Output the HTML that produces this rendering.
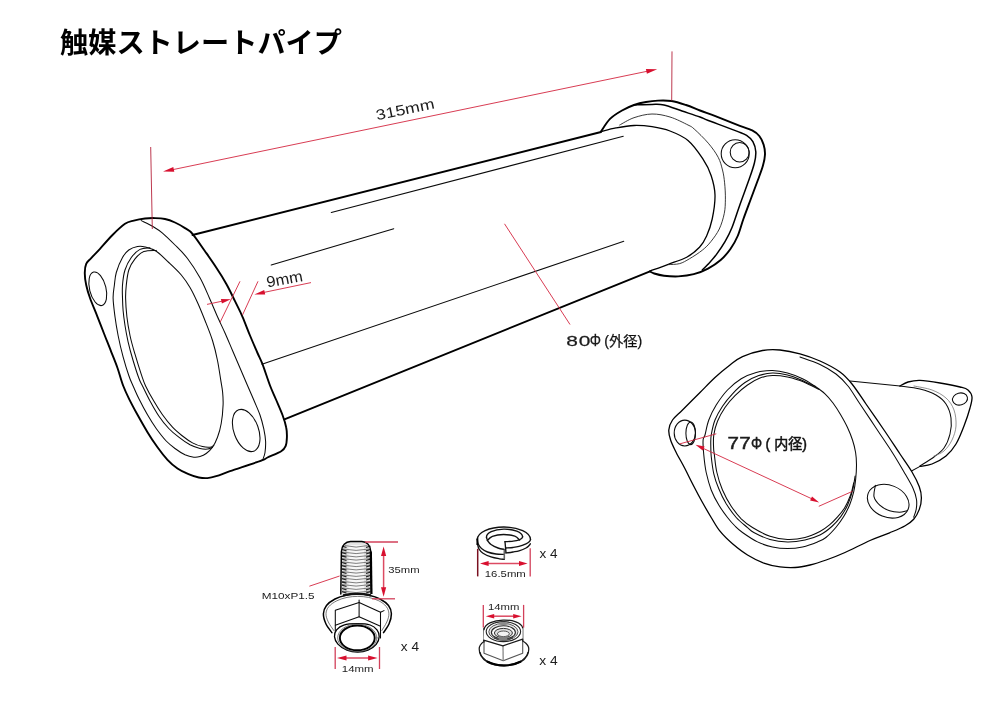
<!DOCTYPE html>
<html lang="ja">
<head>
<meta charset="utf-8">
<title>触媒ストレートパイプ</title>
<style>
html,body{margin:0;padding:0;background:#fff;}
body{width:1000px;height:706px;overflow:hidden;font-family:"Liberation Sans",sans-serif;}
svg{display:block;will-change:transform;}
.k{fill:none;stroke:#000;stroke-width:1.9;stroke-linecap:round;stroke-linejoin:round;}
.m{fill:none;stroke:#000;stroke-width:1.5;stroke-linecap:round;stroke-linejoin:round;}
.m2{fill:none;stroke:#000;stroke-width:1.3;stroke-linecap:round;stroke-linejoin:round;}
.n{fill:none;stroke:#0a0a0a;stroke-width:1.05;stroke-linecap:round;stroke-linejoin:round;}
.w1{fill:none;stroke:#222;stroke-width:0.9;stroke-linecap:round;stroke-linejoin:round;}
.w2{fill:none;stroke:#777;stroke-width:0.8;stroke-linecap:round;}
.g{fill:none;stroke:#555;stroke-width:0.8;stroke-linecap:round;stroke-linejoin:round;}
.r{fill:none;stroke:#d4263f;stroke-width:.9;stroke-linecap:butt;}
.r2{fill:none;stroke:#d2405a;stroke-width:1.3;stroke-linecap:butt;}
.r3{fill:none;stroke:#dc4a62;stroke-width:1.5;}
.rd2{fill:none;stroke:#7a1020;stroke-width:1.5;}
.rd{fill:none;stroke:#b5233b;stroke-width:.9;}
.rf{fill:#d8102f;stroke:none;}
.t{font-family:"Liberation Sans",sans-serif;fill:#1c1c1c;}
.jp{fill:#000;stroke:none;font-family:"Liberation Sans","Noto Sans CJK JP",sans-serif;}
.jps{fill:#111;stroke:#111;stroke-width:0.25;font-family:"Liberation Sans","Noto Sans CJK JP",sans-serif;}
.jpb{fill:#111;stroke:#111;stroke-width:0.5;font-family:"Liberation Sans","Noto Sans CJK JP",sans-serif;}
.w{fill:#fff;}
</style>
</head>
<body>
<svg width="1000" height="706" viewBox="0 0 1000 706" role="img" aria-label="触媒ストレートパイプ 寸法図: 全長315mm, フランジ厚9mm, 80Φ(外径), 77Φ(内径), ボルト M10xP1.5 35mm 14mm x4, スプリングワッシャー 16.5mm x4, ナット 14mm x4">
<title>触媒ストレートパイプ 寸法図</title>
<rect class="w" x="0" y="0" width="1000" height="706"/>
<text class="jp" x="60" y="52.5" font-size="28.2" font-weight="bold" text-anchor="start" textLength="282" lengthAdjust="spacingAndGlyphs">触媒ストレートパイプ</text>
<path class="k" d="M192.5 235L601 132"/>
<path class="k" d="M284.4 419.4L650 271.3"/>
<path class="n" d="M331.3 212.5L623.3 136.3"/>
<path class="n" d="M271.2 265L393.8 228.8"/>
<path class="n" d="M261.9 364.2L623.8 241.3"/>
<path class="k" d="M84.8 272.5C84.8 269 85.2 266.1 86.2 263.8C87.3 261.4 89 260.6 91.2 258.1C93.5 255.6 96.5 252.6 100 248.8C103.5 244.9 108.3 239.2 112.5 235C116.7 230.8 121.5 226.2 125 223.8C128.5 221.3 130.4 221.5 133.8 220.6C137.1 219.7 141.5 218.9 145 218.5C148.5 218.1 151.7 218 155 218.1C158.3 218.2 161.7 218.3 165 219C168.3 219.7 171.7 221 175 222.5C178.3 224 182.1 226.2 185 228.1C187.9 230 189.2 229.9 192.5 233.8C195.8 237.6 201 245.6 205 251.2C209 256.9 212.7 262.1 216.2 267.5C219.8 272.9 223.1 278.1 226.2 283.8C229.4 289.4 232.3 295.8 235 301.2C237.7 306.8 240 311 242.5 316.8C245 322.5 247.5 329.5 250 335.5C252.5 341.5 255.4 348.2 257.5 353C259.6 357.8 260.4 358.8 262.5 364.2C264.6 369.7 267.7 379.5 270 385.5C272.3 391.5 274.2 395.1 276.2 400C278.3 404.9 280.8 410.4 282.5 415C284.2 419.6 285.5 423.8 286.2 427.5C287 431.2 287 434.4 286.9 437.5C286.8 440.6 286.5 444 285.6 446.2C284.7 448.5 284.3 449.4 281.2 451.2C278.2 453.1 270.8 455.9 267.5 457.5C264.2 459.1 267.5 458.3 261.2 460.6C255 462.9 237.5 468.6 230 471.2C222.5 473.9 220 475.1 216.2 476.2C212.5 477.4 210.4 477.9 207.5 478.1C204.6 478.3 201.9 478.1 198.8 477.5C195.6 476.9 192 475.7 188.5 474.2C185 472.7 181 470.9 177.5 468.5C174 466.1 170.8 463.3 167.5 459.8C164.2 456.2 160.8 451.8 157.5 447.2C154.2 442.7 150.8 437.7 147.5 432.2C144.2 426.8 140.5 420.2 137.5 414.8C134.5 409.3 131.7 404.1 129.3 399.3C126.9 394.5 125.3 391.2 123.3 386C121.3 380.8 119.5 373.7 117.5 368C115.5 362.3 113.5 357.6 111.2 351.8C109 345.9 106 338.8 103.8 333C101.5 327.2 99.8 322.6 97.5 316.8C95.2 310.9 91.9 303.3 90 298C88.1 292.7 87.1 289.2 86.2 285C85.3 280.8 84.7 276 84.8 272.5Z"/>
<path class="n" d="M141.3 220.6C143.2 221.6 149 224.2 152.5 226.3C156 228.4 158.8 230 162.5 233.1C166.2 236.2 170.8 240.8 175 245C179.2 249.2 183.3 253 187.5 258.5C191.7 264 196.3 271.2 200 277.8C203.7 284.4 206.5 291.5 209.4 298C212.3 304.5 214.9 310.9 217.5 316.8C220.1 322.6 222.5 327.4 225 333C227.5 338.6 230 344.7 232.5 350.5C235 356.3 237.5 362.2 240 368C242.5 373.8 245.2 380.2 247.5 385.5C249.8 390.8 251.7 395.1 253.8 400C255.8 404.9 258.3 410.2 260 415C261.7 419.8 262.8 424.4 263.8 428.8C264.7 433.1 265.4 437.3 265.6 441.2C265.8 445.2 265.4 449.6 265 452.5C264.6 455.4 263.7 457.4 263.1 458.8C262.5 460.1 261.6 460.3 261.2 460.6"/>
<path class="n" d="M137.5 246.5C140.2 246 141.9 246.1 145 246.9C148.1 247.7 152.3 248.7 156.3 251.3C160.3 253.9 164.6 258.6 168.8 262.5C173 266.4 177.8 270.8 181.3 275C184.8 279.2 187.3 282.9 190 287.5C192.7 292.1 195 297 197.5 302.5C200 308 202.5 314.2 205 320.5C207.5 326.8 210.4 333.8 212.5 340.5C214.6 347.2 216.2 354 217.5 360.5C218.8 367 219.8 374 220.6 379.2C221.4 384.5 222.2 387.8 222.6 392C223 396.2 223.3 399.5 223.1 404.8C222.9 410 222.2 418.1 221.2 423.5C220.3 428.9 219 433.3 217.5 437.2C216 441.2 214.4 444.5 212.5 447.2C210.6 450 208.3 451.9 206.2 453.5C204.2 455.1 202.1 456 200 456.6C197.9 457.2 196.2 457.6 193.8 457.2C191.2 456.9 188.1 456.2 185 454.8C181.9 453.3 178.1 450.8 175 448.5C171.9 446.2 169.4 444.3 166.2 441C163.1 437.7 159.4 432.9 156.2 428.5C153.1 424.1 150.4 419.8 147.5 414.8C144.6 409.8 141.2 403.3 138.8 398.5C136.3 393.7 134.8 389.8 133.1 386C131.4 382.2 130.4 380.4 128.8 375.5C127.1 370.6 124.9 363.4 123.1 356.8C121.3 350.1 119.4 342.2 118.1 335.5C116.8 328.8 115.8 323 115 316.8C114.2 310.5 113.2 303.3 113.1 298C113 292.7 113.9 289.2 114.4 285C114.9 280.8 115 277.1 116.3 272.5C117.6 267.9 120.4 261.2 122.5 257.5C124.6 253.8 126.3 251.8 128.8 250C131.3 248.2 134.8 247 137.5 246.5Z"/>
<path class="n" d="M150 247.8C148.3 248.1 143.1 247.8 140 249.4C136.9 251 133.8 254.1 131.3 257.5C128.8 260.9 126.5 265.4 125 270C123.5 274.6 122.9 280.3 122.5 285C122.1 289.7 122.4 293.8 122.5 298C122.6 302.2 122.7 305.9 123.1 310.5C123.5 315.1 124.2 320.3 125 325.5C125.8 330.7 126.8 335.9 128.1 341.8C129.4 347.6 131.3 354.5 133.1 360.5C134.9 366.5 137.2 373.8 138.8 378C140.3 382.2 140.6 382.2 142.5 386C144.4 389.8 147.3 396 150 401C152.7 406 155.6 411.4 158.8 416C161.9 420.6 165.4 425 168.8 428.5C172.1 432 175.2 434.5 178.8 437.2C182.3 440 186.5 442.9 190 444.8C193.5 446.6 197.1 447.8 200 448.5C202.9 449.2 205.4 449.3 207.5 449.1C209.6 448.9 211.7 447.6 212.5 447.2"/>
<path class="n" d="M156.3 250.4C154.2 250.6 147.4 250.2 143.8 251.6C140.2 253 137.5 255.7 135 258.8C132.5 261.9 130.2 265.6 128.8 270C127.4 274.4 126.8 280.3 126.3 285C125.8 289.7 125.5 292.7 125.6 298C125.7 303.3 126.2 310.5 126.9 316.8C127.6 323 128.7 329.2 130 335.5C131.3 341.8 133.1 347.8 135 354.2C136.9 360.7 139.5 369 141.2 374.2C143 379.5 143.5 381.5 145.6 386C147.7 390.5 150.9 396.2 153.8 401C156.6 405.8 159.4 410.4 162.5 414.8C165.6 419.1 169.2 423.7 172.5 427.2C175.8 430.8 179.2 433.4 182.5 436C185.8 438.6 189.2 441.1 192.5 442.9C195.8 444.7 199.6 445.9 202.5 446.6C205.4 447.3 208.1 447.4 210 447.2C211.9 447.1 213.1 445.7 213.8 445.4"/>
<ellipse class="n" cx="97.8" cy="288.8" rx="8.2" ry="17.2" transform="rotate(-14 97.8 288.8)"/>
<ellipse class="n" cx="246.2" cy="430.5" rx="12.3" ry="22" transform="rotate(-20 246.2 430.5)"/>
<path class="k" d="M601 131.5C602.5 129.4 606.5 122.4 610 118.9C613.5 115.4 618 112.8 622 110.5C626 108.2 630 106.4 634 105C638 103.6 642 102.7 646 102C650 101.3 653.8 100.8 658 100.6C662.2 100.4 666.8 100.3 671.5 101C676.2 101.7 681.2 103.4 686 105C690.8 106.6 695.1 108.6 700 110.5C704.9 112.4 709.3 113.8 715.4 116.2C721.5 118.6 730.6 122.3 736.7 124.7C742.8 127.1 748.4 128.5 752.2 130.4C756 132.3 757.4 133.6 759.3 136C761.2 138.4 762.6 141.5 763.6 144.6C764.6 147.7 765.1 151 765 154.5C764.9 158 764.1 161.6 762.9 165.8C761.7 170.1 759.9 174.6 757.9 180C755.9 185.4 753.4 192 751 198.5C748.6 205 745.6 212.8 743.4 219C741.2 225.2 739.8 231.1 737.7 236C735.6 240.9 733.4 244.7 730.6 248.7C727.8 252.7 724.5 256.7 720.7 260C716.9 263.3 712.5 266.2 708 268.6C703.5 271 698.8 272.9 693.8 274.2C688.8 275.5 683.2 276.1 678.2 276.4C673.2 276.6 668 276.2 664 275.7C660 275.2 656.5 274.2 654.2 273.5C651.9 272.8 650.7 271.8 650 271.4"/>
<path class="m" d="M634 105C637 104.9 647 104.4 652 104.4C657 104.4 659 103.9 664 105C669 106.1 676 109 682 111C688 113 695.6 115.4 700 117C704.4 118.6 702.2 118.2 708.3 120.5C714.4 122.8 730.3 128.6 736.7 131.1C743.1 133.6 743.9 133.6 746.6 135.4C749.3 137.2 751.4 139 752.9 141.7C754.4 144.4 755.5 148.1 755.8 151.7C756 155.2 755.5 158.5 754.4 163C753.3 167.5 751.9 171.4 749.4 178.6C746.9 185.8 742.3 198 739.4 206.2C736.5 214.3 734.4 221.6 732 227.5C729.6 233.4 727.6 237.2 725 241.7C722.4 246.2 719.3 250.6 716.5 254.4C713.7 258.2 710.4 261.7 708 264.3C705.6 266.9 703.2 269.1 702.3 270"/>
<path class="m2" d="M601 131.5C603.5 130.9 610.5 128.9 616 127.9C621.5 126.9 628 125.7 634 125.5C640 125.3 646 125.8 652 126.7C658 127.6 664 128.7 670 131C676 133.3 682.5 135.9 688 140.5C693.5 145.1 698.8 152.8 702.7 158.7C706.6 164.6 709.2 169.6 711.2 175.7C713.2 181.8 714.8 187.8 715 195C715.2 202.2 713.6 212.2 712.2 219C710.8 225.8 708.7 231.3 706.6 236C704.5 240.7 702.8 243.8 699.5 247.3C696.2 250.8 691.9 254.4 686.7 257.2C681.5 260 674.4 262 668.3 264.3C662.2 266.6 653 269.9 650 271"/>
<path class="w1" d="M619.7 125C622.1 123.8 628.6 119.5 634 117.7C639.4 115.9 646 114.1 652 114C658 113.9 664 115.2 670 117C676 118.8 684 123 688 125C692 127 690.8 126 694.2 129C697.6 132 704.3 138.5 708.3 143.2C712.3 147.9 715.8 152.8 718.2 157.3C720.6 161.8 721.4 165.8 722.5 170C723.6 174.2 724.1 177.9 724.6 182.8C725.1 187.7 725.5 194.1 725.4 199.2C725.3 204.3 725.3 208.3 724.3 213.3C723.3 218.3 721.5 224.3 719.3 229C717 233.7 713.6 238.2 710.8 241.7C708 245.2 705.8 247.4 702.3 250.2C698.8 253 693.4 256.5 689.6 258.7C685.8 260.9 683.2 262.6 679.7 263.6C676.2 264.6 670.2 264.4 668.3 264.6"/>
<ellipse class="n" cx="735.2" cy="153.8" rx="14" ry="14" transform="rotate(0 735.2 153.8)"/>
<ellipse class="n" cx="739.7" cy="152.2" rx="9.5" ry="9.7" transform="rotate(0 739.7 152.2)"/>
<path class="rd" d="M150.7 147L152.3 229"/>
<path class="rd" d="M672 51.4L671.7 100.6"/>
<path class="r" d="M172 169.8L648 71.1"/>
<path class="rf" d="M163 171.6L173.3 167L174.3 171.7Z"/>
<path class="rf" d="M657.2 69.2L646.9 73.8L645.9 69.1Z"/>
<text class="t" transform="translate(377 120.2) rotate(-11.7)" font-size="14.6" text-anchor="start" textLength="59.4" lengthAdjust="spacingAndGlyphs">315mm</text>
<path class="r" d="M240 281.3L220 322.5"/>
<path class="r" d="M258 281.3L242.5 315"/>
<path class="r" d="M207 304.4L223 301"/>
<path class="rf" d="M230.8 299.3L221.9 303.6L220.9 299.1Z"/>
<path class="r" d="M311 282.6L263 292.6"/>
<path class="rf" d="M254.3 294.4L264.2 289.9L265.2 294.6Z"/>
<text class="t" transform="translate(267.6 287.6) rotate(-10.6)" font-size="15.6" text-anchor="start" textLength="36.6" lengthAdjust="spacingAndGlyphs">9mm</text>
<path class="r" d="M504.5 223.8L570 324.5"/>
<text class="t" transform="translate(566.2 346) scale(1.360 1)" font-size="15.4" text-anchor="start" x="0 9.3" stroke="#1c1c1c" stroke-width="0.25">80</text>
<text class="t" transform="translate(589.7 346) scale(0.860 1)" font-size="16.4" text-anchor="start" stroke="#1c1c1c" stroke-width="0.25">Φ</text>
<text class="jps" x="604.2" y="345.7" font-size="14" text-anchor="start" textLength="38" lengthAdjust="spacingAndGlyphs">(外径)</text>
<path class="m2" d="M668.8 430C669.1 426.7 670.2 423.3 672.5 420C674.8 416.7 677.9 414.6 682.5 410C687.1 405.4 694.6 397.9 700 392.5C705.4 387.1 710 382.1 715 377.5C720 372.9 725.4 368.5 730 365C734.6 361.5 737.1 359 742.5 356.6C747.9 354.2 756.2 351.6 762.5 350.5C768.8 349.4 773.8 349.4 780 350C786.2 350.6 793.3 352 800 353.8C806.7 355.6 813.3 358 820 361C826.7 364 834.7 368.2 840 372C845.3 375.8 847.7 378.7 852 384C856.3 389.3 860.7 396.3 866 404C871.3 411.7 878.3 421.7 884 430C889.7 438.3 895.3 447 900 454C904.7 461 908.8 466.6 912 472C915.2 477.4 917.7 482.4 919.3 486.7C920.9 491 921.4 494.2 921.4 498C921.4 501.8 920.6 505.8 919.3 509.4C918 512.9 916.1 516.6 913.7 519.3C911.4 522 909.2 523.5 905.2 525.7C901.2 528 895.5 530.3 889.6 532.8C883.7 535.3 877.4 537.2 870 540.5C862.6 543.8 852.3 549.2 845 552.5C837.7 555.8 832.1 557.9 826.2 560C820.4 562.1 815.2 563.8 810 565C804.8 566.2 800 567.2 795 567.5C790 567.8 785.2 567.6 780 566.9C774.8 566.2 769.2 565.1 763.8 563.1C758.3 561.1 752.7 558.2 747.5 555C742.3 551.8 737.1 547.7 732.5 543.8C727.9 539.8 723.5 535.6 720 531.2C716.5 526.9 714.2 522.3 711.2 517.5C708.3 512.7 705.4 507.7 702.5 502.5C699.6 497.3 696.7 491.9 693.8 486.2C690.8 480.6 687.9 474.4 685 468.8C682.1 463.1 678.6 457.3 676.2 452.5C673.9 447.7 671.8 443.8 670.6 440C669.4 436.2 668.5 433.3 668.8 430Z"/>
<path class="n" d="M800 357C803.3 358.2 814 361.6 820 364.4C826 367.2 831.3 370.4 836 374C840.7 377.6 844 381 848 386C852 391 855.3 397 860 404C864.7 411 870.7 420 876 428C881.3 436 887.3 444.7 892 452C896.7 459.3 900.5 466 904 472C907.5 478 910.9 483.6 913 488.2C915.1 492.8 916 496 916.5 499.5C917 503 916.7 506.4 916.2 509.4C915.7 512.4 914.1 515.9 913.7 517.2"/>
<path class="n" d="M703.1 440C703.3 436.7 704.1 438.3 705 435C705.9 431.7 706.9 425 708.8 420C710.6 415 713.1 410 716.2 405C719.4 400 723.3 394.4 727.5 390C731.7 385.6 736.5 381.7 741.2 378.8C746 375.8 751 373.9 756.2 372.5C761.5 371.1 767.3 370.5 772.5 370.6C777.7 370.7 782.5 371.7 787.5 373.1C792.5 374.5 797.9 376.6 802.5 378.8C807.1 380.9 811.2 383.8 815 386.2C818.8 388.8 822 391 825 393.8C828 396.5 830.4 399.5 833 403C835.6 406.5 838.1 410.4 840.5 414.5C842.9 418.6 845.5 423.2 847.5 427.5C849.5 431.8 851.1 435.8 852.5 440C853.9 444.2 854.9 448.3 855.6 452.5C856.3 456.7 856.5 460.4 856.5 465C856.5 469.6 856.1 475.4 855.6 479.9C855.1 484.4 854.7 487.7 853.7 491.8C852.7 495.9 851.4 500.6 849.7 504.7C848 508.8 846 512.8 843.7 516.6C841.4 520.4 838.8 524 835.8 527.5C832.8 531 828.9 535.1 825.9 537.5C822.9 539.9 821.4 540.3 817.5 541.9C813.6 543.5 807.5 545.8 802.5 546.9C797.5 548 792.5 548.5 787.5 548.5C782.5 548.5 777.5 548 772.5 546.9C767.5 545.8 762.5 544.3 757.5 541.9C752.5 539.5 746.2 535.1 742.5 532.5C738.8 529.9 737.5 528.5 735 526C732.5 523.5 730.2 521 727.5 517.5C724.8 514 721.5 509.6 718.8 505C716 500.4 713.3 495.4 711.2 490C709.2 484.6 707.5 478.3 706.2 472.5C705 466.7 704.3 460.4 703.8 455C703.2 449.6 702.9 443.3 703.1 440Z"/>
<path class="n" d="M815 386.3C812.5 385.1 804.6 381.3 800 379.4C795.4 377.5 792.1 376.1 787.5 375C782.9 373.9 777.3 373 772.5 373.1C767.7 373.2 763.3 374 758.8 375.6C754.2 377.2 749.4 379.5 745 382.5C740.6 385.5 736.2 389.8 732.5 393.8C728.8 397.7 725.4 401.9 722.5 406.2C719.6 410.6 716.9 415.2 715 420C713.1 424.8 712 430.6 711.2 435C710.5 439.4 710.8 443.2 710.8 446.7C710.8 450.2 710.8 451.7 711.2 456.2C711.7 460.8 712.5 468.3 713.8 473.8C715 479.2 716.7 483.8 718.8 488.8C720.8 493.8 723.3 499 726.2 503.8C729.2 508.5 732.7 513.5 736.2 517.5C739.8 521.5 744.6 525.1 747.5 527.6C750.4 530.1 750 530.5 753.8 532.5C757.5 534.5 764.4 537.8 770 539.4C775.6 541 781.7 541.8 787.5 541.9C793.3 542 799.6 541.1 805 540C810.4 538.9 815.4 537.2 819.9 535C824.4 532.8 828.3 529.6 831.8 526.5C835.3 523.4 838.1 520.2 840.8 516.6C843.4 513 845.7 509.2 847.7 504.7C849.7 500.2 851.5 494.6 852.7 489.8C853.9 485 854.7 478.3 855.1 476"/>
<path class="n" d="M819 389.3C817.3 388.5 811.9 385.8 808.8 384.4C805.6 382.9 803.5 381.9 800 380.6C796.5 379.4 792.1 377.7 787.5 376.9C782.9 376.1 777.1 375.4 772.5 375.6C767.9 375.8 764.2 376.5 760 378.1C755.8 379.7 751.7 382.1 747.5 385C743.3 387.9 738.8 391.9 735 395.6C731.2 399.4 727.9 403.2 725 407.5C722.1 411.8 719.4 416.7 717.5 421.2C715.6 425.8 714.4 430.5 713.8 435C713.1 439.5 713.5 444.7 713.6 448C713.7 451.3 713.9 450.9 714.4 455C714.9 459.1 715.5 466.7 716.9 472.5C718.2 478.3 720.1 484.4 722.5 490C724.9 495.6 728.1 501.5 731.2 506.2C734.4 511 737.7 515.2 741.2 518.8C744.8 522.3 747.7 524.6 752.5 527.5C757.3 530.4 764.2 534.3 770 536.2C775.8 538.2 781.7 539.2 787.5 539.4C793.3 539.6 799.6 538.8 805 537.5C810.4 536.2 815.8 533.6 819.9 531.5C824 529.4 826.8 527.1 829.8 524.6C832.8 522.1 835.3 519.4 837.8 516.6C840.3 513.8 842.6 511.3 844.7 507.7C846.9 504.1 849.2 498.9 850.7 494.8C852.2 490.7 853.2 484.9 853.7 482.9"/>
<ellipse class="n" cx="684.8" cy="433" rx="10.6" ry="12.9" transform="rotate(0 684.8 433)"/>
<ellipse class="n" cx="690.7" cy="433.3" rx="4.8" ry="11.3" transform="rotate(0 690.7 433.3)"/>
<ellipse class="n" cx="888.2" cy="501.2" rx="21.5" ry="16" transform="rotate(22 888.2 501.2)"/>
<path class="n" d="M875.4 485.3C875.2 487.2 873.3 493.4 874 496.7C874.7 500 877.1 502.8 879.7 505.2C882.3 507.6 886.3 509.6 889.6 510.8C892.9 512 896.7 512.2 899.5 512.2C902.3 512.2 905.4 511 906.6 510.8"/>
<path class="n" d="M850 381L900 386"/>
<path class="n" d="M911.5 471L920 466.4"/>
<path class="m2" d="M900 386C901.3 385.3 904.7 382.9 908 382C911.3 381.1 914.7 380.2 920 380.4C925.3 380.6 933.3 381.9 940 383C946.7 384.1 955.3 385.8 960 387C964.7 388.2 966 388.3 968 390C970 391.7 971.7 394 972 397C972.3 400 971.3 403.2 970 408C968.7 412.8 966.3 420 964 426C961.7 432 959 439 956 444C953 449 950 452.7 946 456C942 459.3 936.3 462.3 932 464C927.7 465.7 922 466 920 466.4"/>
<path class="n" d="M900 386C903.3 386.5 914 387.5 920 389C926 390.5 931.7 392.5 936 395C940.3 397.5 943.5 400.2 946 404C948.5 407.8 950.3 413 951 418C951.7 423 951.2 429 950 434C948.8 439 946.7 444.2 944 448C941.3 451.8 938 454 934 457C930 460 922.3 464.5 920 466"/>
<path class="w2" d="M914 386C917 386.7 926.7 388 932 390C937.3 392 942.3 394.7 946 398C949.7 401.3 952.3 405.3 954 410C955.7 414.7 956.3 421 956 426C955.7 431 954 435.8 952 440C950 444.2 947 448.3 944 451C941 453.7 935.7 455.2 934 456"/>
<ellipse class="n" cx="960" cy="399" rx="7.6" ry="6" transform="rotate(-15 960 399)"/>
<path class="r" d="M680 443.8L716.3 433.8"/>
<path class="r" d="M818.8 506.3L852.5 491.3"/>
<path class="r" d="M702 447.8L812 498.9"/>
<path class="rf" d="M695.5 444.8L704.6 446.6L702.7 450.6Z"/>
<path class="rf" d="M819.2 502.4L810.1 500.6L812 496.6Z"/>
<text class="t" transform="translate(727.6 448.9) scale(1.300 1)" font-size="15.8" text-anchor="start" x="0 9" stroke="#1c1c1c" stroke-width="0.45">77</text>
<text class="t" transform="translate(751 448.9) scale(0.840 1)" font-size="16.6" text-anchor="start" stroke="#1c1c1c" stroke-width="0.45">Φ</text>
<text class="jpb" x="765.6" y="448.7" font-size="14.5" text-anchor="start" textLength="41.4" lengthAdjust="spacingAndGlyphs">( 内径)</text>
<path d="M340.8 594L341.4 551.5C341.8 545.5 345.5 541.6 350.5 541.4L361.8 541.4C366.8 541.6 370.4 545.5 370.8 551.5L371.4 594Z" fill="#e4e4e4" stroke="none"/>
<path d="M348.5 594L348.5 545L364 545L364 594Z" fill="#f6f6f6" stroke="none"/>
<path d="M345 545.6Q356 548.6 367.5 545.6" fill="none" stroke="#707070" stroke-width="0.9"/>
<path d="M342.2 548.9Q356 551.9 370.2 548.9" fill="none" stroke="#707070" stroke-width="0.9"/>
<path d="M342.2 552.1Q356 555.1 370.2 552.1" fill="none" stroke="#707070" stroke-width="0.9"/>
<path d="M342.2 555.4Q356 558.4 370.2 555.4" fill="none" stroke="#707070" stroke-width="0.9"/>
<path d="M342.2 558.6Q356 561.6 370.2 558.6" fill="none" stroke="#707070" stroke-width="0.9"/>
<path d="M342.2 561.9Q356 564.9 370.2 561.9" fill="none" stroke="#707070" stroke-width="0.9"/>
<path d="M342.2 565.1Q356 568.1 370.2 565.1" fill="none" stroke="#707070" stroke-width="0.9"/>
<path d="M342.2 568.4Q356 571.4 370.2 568.4" fill="none" stroke="#707070" stroke-width="0.9"/>
<path d="M342.2 571.6Q356 574.6 370.2 571.6" fill="none" stroke="#707070" stroke-width="0.9"/>
<path d="M342.2 574.9Q356 577.9 370.2 574.9" fill="none" stroke="#707070" stroke-width="0.9"/>
<path d="M342.2 578.1Q356 581.1 370.2 578.1" fill="none" stroke="#707070" stroke-width="0.9"/>
<path d="M342.2 581.4Q356 584.4 370.2 581.4" fill="none" stroke="#707070" stroke-width="0.9"/>
<path d="M342.2 584.6Q356 587.6 370.2 584.6" fill="none" stroke="#707070" stroke-width="0.9"/>
<path d="M342.2 587.9Q356 590.9 370.2 587.9" fill="none" stroke="#707070" stroke-width="0.9"/>
<path d="M342.2 591.1Q356 594.1 370.2 591.1" fill="none" stroke="#707070" stroke-width="0.9"/>
<path d="M342 546.2L346.5 547.5M366 547.5L370.4 546.2" fill="none" stroke="#222" stroke-width="1.3"/>
<path d="M342 549.5L346.5 550.8M366 550.8L370.4 549.5" fill="none" stroke="#222" stroke-width="1.3"/>
<path d="M342 552.7L346.5 554M366 554L370.4 552.7" fill="none" stroke="#222" stroke-width="1.3"/>
<path d="M342 556L346.5 557.2M366 557.2L370.4 556" fill="none" stroke="#222" stroke-width="1.3"/>
<path d="M342 559.2L346.5 560.5M366 560.5L370.4 559.2" fill="none" stroke="#222" stroke-width="1.3"/>
<path d="M342 562.5L346.5 563.8M366 563.8L370.4 562.5" fill="none" stroke="#222" stroke-width="1.3"/>
<path d="M342 565.7L346.5 567M366 567L370.4 565.7" fill="none" stroke="#222" stroke-width="1.3"/>
<path d="M342 569L346.5 570.2M366 570.2L370.4 569" fill="none" stroke="#222" stroke-width="1.3"/>
<path d="M342 572.2L346.5 573.5M366 573.5L370.4 572.2" fill="none" stroke="#222" stroke-width="1.3"/>
<path d="M342 575.5L346.5 576.8M366 576.8L370.4 575.5" fill="none" stroke="#222" stroke-width="1.3"/>
<path d="M342 578.7L346.5 580M366 580L370.4 578.7" fill="none" stroke="#222" stroke-width="1.3"/>
<path d="M342 582L346.5 583.2M366 583.2L370.4 582" fill="none" stroke="#222" stroke-width="1.3"/>
<path d="M342 585.2L346.5 586.5M366 586.5L370.4 585.2" fill="none" stroke="#222" stroke-width="1.3"/>
<path d="M342 588.5L346.5 589.8M366 589.8L370.4 588.5" fill="none" stroke="#222" stroke-width="1.3"/>
<path d="M342 591.7L346.5 593M366 593L370.4 591.7" fill="none" stroke="#222" stroke-width="1.3"/>
<path class="m" d="M340.8 594L341.4 551.5C341.8 545.5 345.5 541.6 350.5 541.4L361.8 541.4C366.8 541.6 370.4 545.5 370.8 551.5"/>
<path d="M370.8 551.5L371.4 594" fill="none" stroke="#000" stroke-width="2.3"/>
<path d="M331.9 632.7C330.9 631.2 327.4 627.1 326 624C324.6 620.9 323.3 616.9 323.4 613.8C323.5 610.7 324.6 608 326.5 605.5C328.4 603 331.8 600.7 335 599C338.2 597.3 342.2 596 346 595.2C349.8 594.4 353.9 594 357.7 594C361.5 594 365.3 594.4 369 595.2C372.7 596 376.8 597.3 380 599C383.2 600.7 386.6 603 388.5 605.5C390.4 608 391.3 610.7 391.4 613.8C391.5 616.9 390.3 620.9 389 624C387.7 627.1 384.4 631.2 383.5 632.7L357 640Z" fill="#fff" stroke="none"/>
<path class="m" d="M331.9 632.7C330.9 631.2 327.4 627.1 326 624C324.6 620.9 323.3 616.9 323.4 613.8C323.5 610.7 324.6 608 326.5 605.5C328.4 603 331.8 600.7 335 599C338.2 597.3 342.2 596 346 595.2C349.8 594.4 353.9 594 357.7 594C361.5 594 365.3 594.4 369 595.2C372.7 596 376.8 597.3 380 599C383.2 600.7 386.6 603 388.5 605.5C390.4 608 391.3 610.7 391.4 613.8C391.5 616.9 390.3 620.9 389 624C387.7 627.1 384.4 631.2 383.5 632.7"/>
<path class="g" d="M333.8 630.5C332.9 629.1 329.6 624.8 328.3 622C327 619.2 325.9 616.4 326 613.8C326.1 611.2 327 608.8 328.8 606.6C330.6 604.4 333.8 602.3 336.8 600.8C339.8 599.3 343.5 598.1 347 597.4C350.5 596.7 354.1 596.4 357.7 596.4C361.3 596.4 365 596.7 368.5 597.4C372 598.1 375.8 599.3 378.8 600.8C381.8 602.3 384.6 604.4 386.3 606.6C388 608.8 388.8 611.2 388.9 613.8C389 616.4 388 619.2 386.8 622C385.6 624.8 382.6 629.1 381.8 630.5"/>
<path d="M343 595.3Q357 592.6 371 595.3" fill="none" stroke="#111" stroke-width="2.2"/>
<path d="M335.3 610.3L359.1 602.4L380.5 612.3L380.5 638L335.3 638Z" fill="#fff" stroke="none"/>
<path class="n" d="M335.3 638L335.3 610.3L359.1 602.4L380.5 612.3L380.5 638"/>
<path class="n" d="M359.1 600L359.1 616.8"/>
<path class="n" d="M335.3 625.2L359.1 616.8L380.5 626.2"/>
<path class="n" d="M380.5 612.3L384 610.6"/>
<path d="M334.5 636.6C334.3 634.2 335.1 631.7 336.6 629.8C338.2 627.9 340.3 626 343.8 625C347.3 624 353.1 623.7 357.5 623.7C361.9 623.7 366.9 624 370.2 625C373.4 626 375.5 627.9 377 629.8C378.5 631.7 379.3 634.2 379.2 636.6C379.1 639 378.1 642 376.2 644.3C374.3 646.6 371.1 648.9 368 650.2C364.9 651.5 361.2 652.2 357.7 652.2C354.2 652.2 350.3 651.6 347 650.2C343.7 648.9 340 646.4 337.9 644.1C335.8 641.8 334.7 639 334.5 636.6Z" fill="#fff" stroke="#000" stroke-width="1.3" stroke-linejoin="round"/>
<ellipse class="k" cx="357.3" cy="637.9" rx="17.4" ry="12.4" transform="rotate(0 357.3 637.9)"/>
<ellipse class="g" cx="357.3" cy="637.9" rx="19.6" ry="13.8" transform="rotate(0 357.3 637.9)"/>
<path class="r2" d="M365 542L398 542"/>
<path class="r2" d="M372 598.8L395 598.8"/>
<path class="r3" d="M383.6 553L383.6 590"/>
<path class="rf" d="M383.6 546.6L386.2 556.1L381 556.1Z"/>
<path class="rf" d="M383.6 596.8L381 587.3L386.2 587.3Z"/>
<text class="t" transform="translate(388.3 573)" font-size="9.6" text-anchor="start" textLength="31.3" lengthAdjust="spacingAndGlyphs">35mm</text>
<path class="r" d="M309.4 586.2L339.6 576"/>
<text class="t" transform="translate(261.8 599.2)" font-size="9.6" text-anchor="start" textLength="52.8" lengthAdjust="spacingAndGlyphs">M10xP1.5</text>
<path class="r2" d="M335.2 647L335.2 669"/>
<path class="r2" d="M379.5 647L379.5 669"/>
<path class="r3" d="M345 658L370 658"/>
<path class="rf" d="M337 658L346.5 655.4L346.5 660.6Z"/>
<path class="rf" d="M377.6 658L368.1 660.6L368.1 655.4Z"/>
<text class="t" transform="translate(341.8 671.6)" font-size="9.6" text-anchor="start" textLength="31.8" lengthAdjust="spacingAndGlyphs">14mm</text>
<text class="t" transform="translate(400.8 651.3)" font-size="13.2" text-anchor="start" textLength="18.2" lengthAdjust="spacingAndGlyphs">x 4</text>
<path d="M477.3 539.6C477.3 522 530.5 522 530.5 539.6L530.3 543.8C528 552 515 553 506 552.9L504.3 559.3C490 558.5 478 552 477.5 544Z" fill="#fff" stroke="none"/>
<path d="M477.3 539.6A26.6 12.6 0 0 1 530.5 539.6" fill="none" stroke="#111" stroke-width="1.35" stroke-linecap="round" stroke-linejoin="round"/>
<path d="M486.5 537.5A18 8 0 0 1 522.6 536.8" fill="none" stroke="#111" stroke-width="1.35" stroke-linecap="round" stroke-linejoin="round"/>
<path d="M487.3 540.6C488.1 539.9 489.7 537.3 492.4 536.3C495.1 535.3 499.9 534.5 503.6 534.5C507.3 534.5 512.1 535.3 514.8 536.2C517.5 537.1 518.8 539.4 519.6 540" fill="none" stroke="#111" stroke-width="1.35" stroke-linecap="round" stroke-linejoin="round"/>
<path d="M486.5 537.5C486.7 538.1 487.1 539.8 487.8 541C488.6 542.2 489.3 543.3 491 544.5C492.7 545.7 495.8 547.2 498 548C500.2 548.8 503.2 549.2 504.3 549.4" fill="none" stroke="#111" stroke-width="1.35" stroke-linecap="round" stroke-linejoin="round"/>
<path d="M477.3 539.6C477.4 540.3 477.5 542.5 478.2 544C478.9 545.5 479.9 547.2 481.5 548.5C483.1 549.8 485.1 551.1 487.5 552C489.9 552.9 493.2 553.6 496 554C498.8 554.4 502.9 554.3 504.3 554.4" fill="none" stroke="#111" stroke-width="1.35" stroke-linecap="round" stroke-linejoin="round"/>
<path d="M477.5 544C477.8 544.8 478.1 547.5 479 549C479.9 550.5 481 551.9 483 553.2C485 554.5 488.3 556 491 556.9C493.7 557.8 497.2 558.4 499.4 558.8C501.6 559.2 503.5 559.2 504.3 559.3" fill="none" stroke="#111" stroke-width="1.35" stroke-linecap="round" stroke-linejoin="round"/>
<path d="M504.3 549.4L504.3 559.3" fill="none" stroke="#666" stroke-width="1.6"/>
<path d="M505 541.7C506.2 541.6 509.8 541.5 512 541.3C514.2 541 516.9 540.7 518.5 540.2C520.1 539.8 520.8 539.2 521.5 538.6C522.2 538 522.4 537.1 522.6 536.8" fill="none" stroke="#111" stroke-width="1.35" stroke-linecap="round" stroke-linejoin="round"/>
<path d="M505.8 548C507 547.9 510.8 547.8 513 547.5C515.2 547.2 516.8 547 519 546.4C521.2 545.8 524.2 544.6 526 543.8C527.8 543 528.8 542.2 529.5 541.5C530.2 540.8 530.3 539.9 530.5 539.6" fill="none" stroke="#111" stroke-width="1.35" stroke-linecap="round" stroke-linejoin="round"/>
<path d="M506 552.9C507.2 552.8 510.8 552.4 513 552C515.2 551.6 516.8 551.5 519 550.8C521.2 550.1 524.3 548.9 526 548C527.7 547.1 528.3 546.3 529 545.6C529.7 544.9 530.1 544.1 530.3 543.8" fill="none" stroke="#111" stroke-width="1.35" stroke-linecap="round" stroke-linejoin="round"/>
<path d="M505 541.7L506 552.9" fill="none" stroke="#111" stroke-width="1.35" stroke-linecap="round" stroke-linejoin="round"/>
<path d="M477.4 538.5L477.4 545" fill="none" stroke="#000" stroke-width="1.9"/>
<path class="rd2" d="M477.7 548.8L477.7 576.4"/>
<path class="r2" d="M530.2 548.2L530.2 576.4"/>
<path class="r3" d="M488 563.5L520 563.5"/>
<path class="rf" d="M480 563.5L488.6 561.1L488.6 565.9Z"/>
<path class="rf" d="M527.6 563.5L519 565.9L519 561.1Z"/>
<text class="t" transform="translate(484.8 576.5)" font-size="8.8" text-anchor="start" textLength="41" lengthAdjust="spacingAndGlyphs">16.5mm</text>
<text class="t" transform="translate(539.4 558.4)" font-size="13.2" text-anchor="start" textLength="18" lengthAdjust="spacingAndGlyphs">x 4</text>
<path d="M479.2 648.9C479.2 672 528.8 672 528.8 648.9C528.8 630 479.2 630 479.2 648.9Z" fill="#fff" stroke="none"/>
<path d="M484 641.5C481 643.5 479.2 646 479.2 648.9C479.2 671.5 528.8 671.5 528.8 648.9C528.8 646 526 643 522.8 641" fill="none" stroke="#1a1a1a" stroke-width="1.25" stroke-linecap="round" stroke-linejoin="round"/>
<path d="M480 652C484 669.5 524 669.5 528 652" fill="none" stroke="#111" stroke-width="1.1"/>
<path d="M487 661.5Q504 669.5 521 661.5" fill="none" stroke="#000" stroke-width="2"/>
<path d="M484 629.6L484 653.3L503.2 660.7L522.7 653.3L522.7 627.8Z" fill="#fff" stroke="none"/>
<path d="M484 640L484 653.3L503.2 660.7L522.7 653.3L522.7 639.2" fill="none" stroke="#555" stroke-width="1.1" stroke-linejoin="round"/>
<path d="M503 645.8L503.2 660.7" fill="none" stroke="#888" stroke-width="1.3"/>
<path d="M484 628L484 642M522.7 627.8L522.7 641" fill="none" stroke="#1a1a1a" stroke-width="1.25" stroke-linecap="round" stroke-linejoin="round"/>
<path d="M484 629.6C486 617 520 617 522.7 627.8L522.7 639.2L502.9 645.8L483.6 640.1Z" fill="#fff" stroke="none"/>
<path d="M484 629.6C486 617.2 520 617.2 522.7 627.8" fill="none" stroke="#1a1a1a" stroke-width="1.25" stroke-linecap="round" stroke-linejoin="round"/>
<path d="M483.6 640.1L502.9 645.8L522.7 639.2" fill="none" stroke="#1a1a1a" stroke-width="1.25" stroke-linecap="round" stroke-linejoin="round"/>
<ellipse cx="503.4" cy="631.6" rx="17.2" ry="10" fill="#fff" stroke="#222" stroke-width="1.1"/>
<ellipse cx="503.4" cy="631.8" rx="14.6" ry="8.4" fill="#e6e6e6" stroke="#444" stroke-width="0.9"/>
<ellipse cx="503.2" cy="623.4" rx="4.2" ry="1.6" fill="#8c8c8c" stroke="none"/>
<ellipse cx="503.4" cy="632.4" rx="12" ry="6.6" fill="#fafafa" stroke="#2a2a2a" stroke-width="1.1"/>
<ellipse cx="503.4" cy="633" rx="9" ry="4.6" fill="#dedede" stroke="#333" stroke-width="1"/>
<ellipse cx="503.4" cy="633.8" rx="6" ry="2.8" fill="#f2f2f2" stroke="#444" stroke-width="0.9"/>
<path d="M494 637.8Q503.4 643.2 513 637.8Q503.4 640 494 637.8Z" fill="#7d7d7d" stroke="#333" stroke-width="0.8"/>
<ellipse cx="503" cy="638.6" rx="4.4" ry="2" fill="#808080" stroke="none"/>
<path class="r2" d="M483.3 604.9L483.3 627.6"/>
<path class="r2" d="M523.6 604.9L523.6 627.6"/>
<path class="r3" d="M492 616.2L514 616.2"/>
<path class="rf" d="M485.8 616.2L494.2 613.9L494.2 618.5Z"/>
<path class="rf" d="M521.6 616.2L513.2 618.5L513.2 613.9Z"/>
<text class="t" transform="translate(488 609.9)" font-size="9.2" text-anchor="start" textLength="31.4" lengthAdjust="spacingAndGlyphs">14mm</text>
<text class="t" transform="translate(539.2 665.1)" font-size="13.2" text-anchor="start" textLength="18.4" lengthAdjust="spacingAndGlyphs">x 4</text>
</svg>
</body>
</html>
